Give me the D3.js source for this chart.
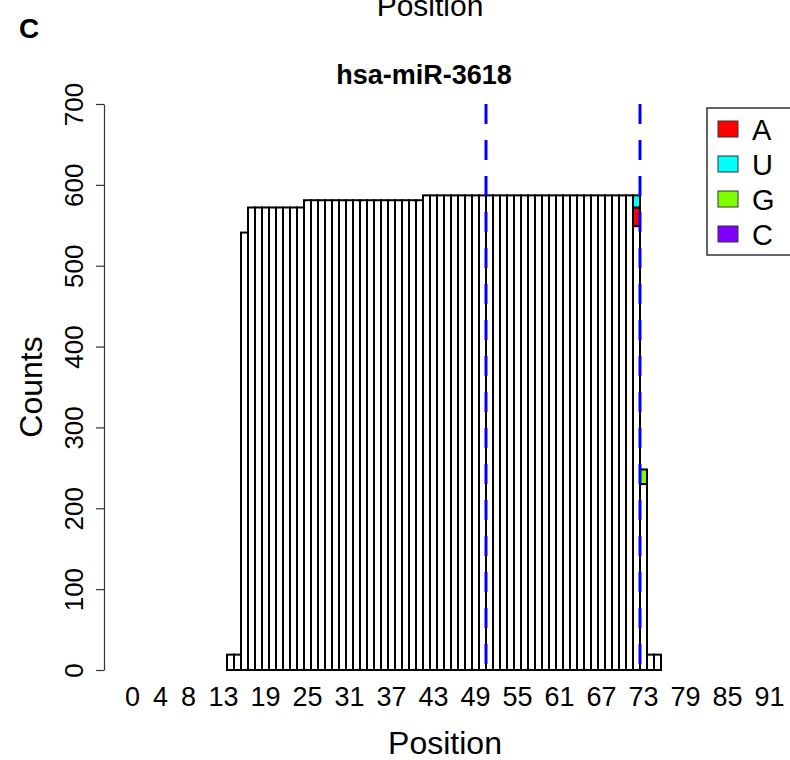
<!DOCTYPE html>
<html>
<head>
<meta charset="utf-8">
<script src="https://cdn.jsdelivr.net/npm/d3@7"></script>
<style>
  body { margin: 0; background: #fff; }
  svg { display: block; font-family: "Liberation Sans", Arial, Helvetica, sans-serif; }
</style>
</head>
<body>
<div id="chart"></div>
<script>
// positions along the precursor
const positions = [
  0, 1, 2, 3, 4, 5, 6, 7, 8, 9, 10, 11, 12, 13, 14, 15, 16, 17, 18, 19,
  20, 21, 22, 23, 24, 25, 26, 27, 28, 29, 30, 31, 32, 33, 34, 35, 36, 37, 38, 39,
  40, 41, 42, 43, 44, 45, 46, 47, 48, 49, 50, 51, 52, 53, 54, 55, 56, 57, 58, 59,
  60, 61, 62, 63, 64, 65, 66, 67, 68, 69, 70, 71, 72, 73, 74, 75, 76, 77, 78, 79,
  80, 81, 82, 83, 84, 85, 86, 87, 88, 89, 90, 91, 92, 93
];

// reads matching the reference at each position (white part of the bar)
const matchCounts = [
  0, 0, 0, 0, 0, 0, 0, 0, 0, 0, 0, 0, 0, 0, 19, 19, 541, 572, 572, 572,
  572, 572, 572, 572, 572, 581, 581, 581, 581, 581, 581, 581, 581, 581, 581, 581, 581, 581, 581, 581,
  581, 581, 587, 587, 587, 587, 587, 587, 587, 587, 587, 587, 587, 587, 587, 587, 587, 587, 587, 587,
  587, 587, 587, 587, 587, 587, 587, 587, 587, 587, 587, 587, 549, 230, 19, 19, 0, 0, 0, 0,
  0, 0, 0, 0, 0, 0, 0, 0, 0, 0, 0, 0, 0, 0
];

// non-templated nucleotides stacked on top: [position, count]
const countA = [[72, 23]];
const countU = [[72, 15]];
const countG = [[73, 18]];
const countC = [];

const nucleotides = ["A", "U", "G", "C"];
const nucColors = ["#FF0000", "#00FFFF", "#80FF00", "#8000FF"];

const tickLabels = [0, 4, 8, 13, 19, 25, 31, 37, 43, 49, 55, 61, 67, 73, 79, 85, 91];
const yTicks = [0, 100, 200, 300, 400, 500, 600, 700];
const matureEdges = [51, 73];

const width = 790, height = 760;

const svg = d3.select("#chart").append("svg")
  .attr("width", width)
  .attr("height", height);

const x = d3.scaleBand()
  .domain(positions)
  .range([129, 787])
  .paddingInner(0)
  .paddingOuter(0);

const y = d3.scaleLinear()
  .domain([0, 700])
  .range([670, 104]);

// build stacked segments
const extras = [countA, countU, countG, countC];
const segments = [];
positions.forEach((p, i) => {
  let base = matchCounts[i];
  segments.push({ pos: p, y0: 0, y1: base, fill: "#fff" });
  extras.forEach((list, k) => {
    list.forEach(([pos, n]) => {
      if (pos === p) {
        segments.push({ pos: p, y0: base, y1: base + n, fill: nucColors[k] });
        base += n;
      }
    });
  });
});

svg.append("g")
  .selectAll("rect")
  .data(segments)
  .enter().append("rect")
  .attr("x", d => x(d.pos))
  .attr("y", d => y(d.y1))
  .attr("width", x.bandwidth())
  .attr("height", d => y(d.y0) - y(d.y1))
  .attr("fill", d => d.fill)
  .attr("stroke", d => d.y1 === 0 ? "#777" : "#000")
  .attr("stroke-width", d => d.y1 === 0 ? 1.2 : 2);

// dashed lines marking the mature region
svg.append("g")
  .selectAll("line")
  .data(matureEdges)
  .enter().append("line")
  .attr("x1", d => x(d))
  .attr("x2", d => x(d))
  .attr("y1", y(700))
  .attr("y2", y(0))
  .attr("stroke", "#0000FF")
  .attr("stroke-width", 3)
  .attr("stroke-dasharray", "20,16");

// y axis
const yAxis = svg.append("g")
  .attr("transform", "translate(104,0)")
  .call(d3.axisLeft(y).tickValues(yTicks).tickSize(8).tickSizeOuter(0));
yAxis.select(".domain").attr("stroke", "#333").attr("stroke-width", 1.2);
yAxis.selectAll(".tick line").attr("stroke", "#333").attr("stroke-width", 1.2);
yAxis.selectAll(".tick text")
  .attr("font-size", 26)
  .attr("fill", "#000")
  .attr("text-anchor", "middle")
  .attr("x", 0)
  .attr("dy", 0)
  .attr("transform", "translate(-21,0) rotate(-90)");

// x tick labels (no axis line, as in the barplot)
svg.append("g")
  .selectAll("text")
  .data(tickLabels)
  .enter().append("text")
  .attr("x", d => x(d) + x.bandwidth() / 2)
  .attr("y", 706)
  .attr("text-anchor", "middle")
  .attr("font-size", 27)
  .text(d => d);

// titles
svg.append("text")
  .attr("x", 445).attr("y", 754)
  .attr("text-anchor", "middle")
  .attr("font-size", 32)
  .text("Position");

svg.append("text")
  .attr("transform", "translate(42,387) rotate(-90)")
  .attr("text-anchor", "middle")
  .attr("font-size", 32)
  .text("Counts");

svg.append("text")
  .attr("x", 424).attr("y", 84)
  .attr("text-anchor", "middle")
  .attr("font-size", 27)
  .attr("font-weight", "bold")
  .text("hsa-miR-3618");

svg.append("text")
  .attr("x", 430).attr("y", 16)
  .attr("text-anchor", "middle")
  .attr("font-size", 30)
  .text("Position");

svg.append("text")
  .attr("x", 19).attr("y", 38)
  .attr("font-size", 28)
  .attr("font-weight", "bold")
  .text("C");

// legend
const legend = svg.append("g");
legend.append("rect")
  .attr("x", 707).attr("y", 108)
  .attr("width", 100).attr("height", 147)
  .attr("fill", "#fff")
  .attr("stroke", "#333")
  .attr("stroke-width", 1.5);

const rows = legend.selectAll(".row")
  .data(nucleotides)
  .enter().append("g")
  .attr("class", "row")
  .attr("transform", (d, i) => `translate(0,${129 + i * 35})`);

rows.append("rect")
  .attr("x", 718).attr("y", -8)
  .attr("width", 20).attr("height", 16)
  .attr("fill", (d, i) => nucColors[i])
  .attr("stroke", "#333")
  .attr("stroke-width", 1);

rows.append("text")
  .attr("x", 752).attr("y", 11)
  .attr("font-size", 29)
  .text(d => d);
</script>
</body>
</html>
